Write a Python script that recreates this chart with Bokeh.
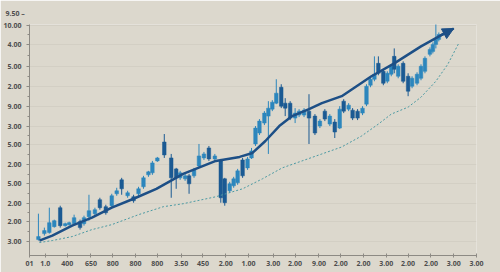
from bokeh.plotting import figure
from bokeh.models import FixedTicker, Arrow, NormalHead, ColumnDataSource, Title
from bokeh.embed import file_html
from bokeh.resources import INLINE

# candle data (chart units)
cx = [9,15,20,25,31,36,40,45,51,55,60,66,71,77,83,88,93,99,105,110,
      115,120,124,129,136,143,148,152,157,161,166,171,176,181,187,193,197,202,206,210,
      215,220,224,228,232,237,241,245,249,254,258,263,268,272,277,282,288,293,298,303,
      308,313,317,322,326,331,336,340,344,348,352,357,361,365,368,372,377,382,386,391,
      395,399,404,407,410,413]
c_open = [16,22,23,29,48,30,31,32,34,32,39,42,56,49,50,62,76,60,59,62,
          69,81,83,95,114,98,87,78,77,80,80,90,98,108,97,95,77,65,70,73,
          96,88,98,112,123,133,140,147,153,169,153,153,138,141,141,145,140,130,145,132,
          134,128,155,147,146,145,143,152,171,177,193,185,175,182,200,180,193,180,170,173,
          178,185,202,205,212,217]
c_close = [19,25,33,35,30,32,33,38,28,38,45,46,48,43,60,65,67,63,55,67,
           78,84,93,98,101,78,78,83,80,72,86,100,102,97,100,58,53,72,77,85,
           80,97,105,128,135,143,148,154,163,150,148,138,143,145,146,138,123,135,137,140,
           124,147,145,151,138,138,148,170,177,182,183,173,183,190,187,190,175,165,178,182,
           190,198,207,212,217,222]
c_high = [42,28,48,36,50,33,34,41,36,40,61,48,58,51,62,68,78,65,61,69,
          80,85,95,99,122,102,88,85,82,82,88,112,104,110,102,97,78,74,79,87,
          98,99,108,130,137,145,155,156,177,172,158,155,148,147,148,162,142,137,147,142,
          137,150,157,153,148,147,150,172,179,200,200,187,185,192,208,192,195,183,180,184,
          192,200,209,214,233,224]
c_low = [15,20,22,28,28,29,30,31,26,30,35,40,46,41,48,60,61,58,53,60,
         67,79,81,94,98,58,67,76,75,62,78,88,96,95,95,53,50,63,68,71,
         78,86,97,110,121,131,102,145,152,148,140,136,133,139,139,112,121,128,135,130,
         118,127,143,145,136,136,141,150,169,175,181,171,173,180,183,178,173,160,168,171,
         176,183,200,203,208,215]

# trend line
tx = [10,23,43,63,83,105,128,155,188,212,225,238,252,265,282,295,315,345,368,395,415,428]
ty = [15,20,30,38,48,57,67,82,95,99,103,115,130,140,147,153,160,180,193,210,221,228]

# dashed line
dx = [10,23,43,63,83,110,135,155,188,215,235,255,275,295,315,335,352,365,382,395,410,422,433]
dy = [13,15,19,26,31,41,49,52,59,67,77,88,95,102,109,120,132,142,149,159,175,192,213]

# axis ticks
x_ticks = [0,16,38,62,84,107,129,153,175,198,221,246,268,292,314,337,360,382,405,428,451]
x_labels = ["01","1.0","400","650","800","800","800","3.50","450","2.00","1.00",
            "3.00","2.00","9.00","2.00","2.00","3.00","2.00","2.00","3.00","3.00"]
y_ticks = [14,34,52,72,91,111,130,150,170,190,212,231]
y_labels = ["3.00","2.00","2.00","5.00","2.00","5.00","3.00","9.00","2.00","5.00","4.00","10.00"]
extra_y_label = "9.50 \u2013"

BG = "#dcd8cd"
LIGHT = "#2c86bd"
DARK = "#1b5a93"

p = figure(width=500, height=272, output_backend="svg", toolbar_location=None,
           x_range=(0, 451), y_range=(0, 232),
           min_border_left=25, min_border_right=24, min_border_top=23, min_border_bottom=17)
p.background_fill_color = BG
p.border_fill_color = BG
p.outline_line_color = None

up = [c >= o for o, c in zip(c_open, c_close)]
src = ColumnDataSource(dict(
    x=cx, high=c_high, low=c_low,
    top=[max(o, c) for o, c in zip(c_open, c_close)],
    bottom=[min(o, c) for o, c in zip(c_open, c_close)],
    color=[LIGHT if u else DARK for u in up],
))
p.segment(x0="x", y0="high", x1="x", y1="low", color="color", line_width=1, source=src)
p.vbar(x="x", width=3.6, top="top", bottom="bottom", fill_color="color",
       line_color="color", line_width=0.5, source=src)

p.line(dx, dy, line_color="#4c9aa3", line_width=1, line_dash="2 2")
p.line(tx, ty, line_color="#1d4f86", line_width=2.5)
p.add_layout(Arrow(end=NormalHead(size=11, fill_color="#1d4f86", line_color="#1d4f86"),
                   x_start=tx[-2], y_start=ty[-2], x_end=tx[-1], y_end=ty[-1],
                   line_color="#1d4f86", line_width=2.5))

# axes
p.xaxis.ticker = FixedTicker(ticks=x_ticks)
p.xaxis.major_label_overrides = {t: l for t, l in zip(x_ticks, x_labels)}
p.yaxis.ticker = FixedTicker(ticks=y_ticks,
                             minor_ticks=[(a + b) / 2 for a, b in zip(y_ticks[:-1], y_ticks[1:])])
p.yaxis.major_label_overrides = {t: l for t, l in zip(y_ticks, y_labels)}
for ax in (p.xaxis[0], p.yaxis[0]):
    ax.axis_line_color = "#8d8a84"
    ax.major_tick_line_color = "#8d8a84"
    ax.minor_tick_line_color = "#8d8a84"
    ax.major_label_text_font = "Open Sans"
    ax.major_label_text_font_size = "7px"
    ax.major_label_text_color = "#4d4d4d"
    ax.major_label_text_font_style = "bold"
p.xaxis.major_tick_in = 2
p.xaxis.major_tick_out = 2
p.xaxis.minor_tick_line_color = None
p.xaxis.major_label_standoff = 3
p.yaxis.major_tick_in = 0
p.yaxis.major_tick_out = 3
p.yaxis.minor_tick_in = 0
p.yaxis.minor_tick_out = 2
p.yaxis.major_label_standoff = 5

p.xgrid.grid_line_color = None
p.ygrid.grid_line_color = "#cdc9be"
p.ygrid.grid_line_alpha = 0.6

# the stray label above the top of the value axis
p.add_layout(Title(text=extra_y_label, align="left", offset=-24, standoff=13,
                   text_font="Open Sans", text_font_size="7px", text_font_style="bold",
                   text_color="#4d4d4d"), "above")

open("out.html", "w").write(file_html(p, INLINE))
